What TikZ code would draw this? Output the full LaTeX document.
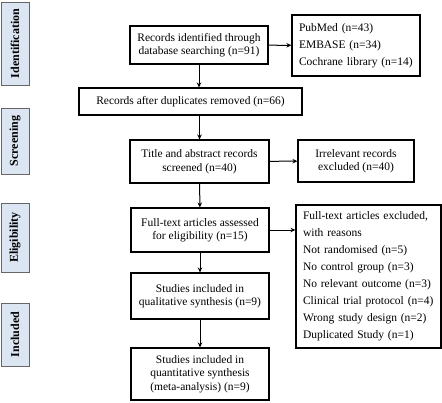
\documentclass[tikz,border=0pt]{standalone}
\usepackage{fontspec}
\setmainfont{Liberation Serif}
\usetikzlibrary{arrows.meta}
\definecolor{stagefill}{RGB}{220,230,242}
\tikzset{
	stagebox/.style={draw=black!60, fill=stagefill, line width=0.7pt, font=\bfseries\fontsize{12}{14}\selectfont, rotate=90, inner sep=0pt},
	flowbox/.style={draw, line width=1.1pt, align=center, inner sep=2pt, font=\fontsize{11.5}{13.5}\selectfont},
	listbox/.style={draw, line width=1.1pt, align=left, inner xsep=7pt, inner ysep=2pt, font=\fontsize{11.5}{17}\selectfont},
	flowarrow/.style={line width=1pt, -{Stealth[length=5pt,width=4.5pt]}}
}
\begin{document}
\begin{tikzpicture}[x=1pt, y=-1pt]
			%%%%% START %%%%%
			\useasboundingbox (0, 0) rectangle (442, 402);
			
			\node[stagebox, minimum width=83, minimum height=28] (idlab) at (15, 43.5) {Identification};
			\node[stagebox, minimum width=66, minimum height=28] (scrlab) at (15, 141) {Screening};
			\node[stagebox, minimum width=69, minimum height=28] (elilab) at (15, 237.5) {Eligibility};
			\node[stagebox, minimum width=63, minimum height=28] (inclab) at (15, 334.5) {Included};
			
			\node[flowbox, minimum width=138, minimum height=38] (found) at (199, 45) {Records identified through\\database searching (n=91)};
			\node[listbox, minimum width=128, minimum height=61, text width=114] (sources) at (356, 45.5) {PubMed (n=43)\\EMBASE (n=34)\\Cochrane library (n=14)};
			\node[flowbox, minimum width=223, minimum height=27] (dedup) at (190.5, 101.5) {Records after duplicates removed (n=66)};
			\node[flowbox, minimum width=139, minimum height=43] (screen) at (199.5, 161.5) {Title and abstract records\\screened (n=40)};
			\node[flowbox, minimum width=116, minimum height=42] (irrel) at (356, 161) {Irrelevant records\\excluded (n=40)};
			\node[flowbox, minimum width=138, minimum height=44] (fulltext) at (200, 230) {Full-text articles assessed\\for eligibility (n=15)};
			\node[listbox, minimum width=145, minimum height=143, text width=131] (reasons) at (368.5, 276.5) {Full-text articles excluded,\\with reasons\\Not randomised (n=5)\\No control group (n=3)\\No relevant outcome (n=3)\\Clinical trial protocol (n=4)\\Wrong study design (n=2)\\Duplicated Study (n=1)};
			\node[flowbox, minimum width=138, minimum height=46] (qual) at (200, 296) {Studies included in\\qualitative synthesis (n=9)};
			\node[flowbox, minimum width=138, minimum height=52] (quant) at (200, 374) {Studies included in\\quantitative synthesis\\(meta-analysis) (n=9)};
			
			\draw[flowarrow] (found) -- (sources);
			\draw[flowarrow] (found.south) -- (found.south |- dedup.north);
			\draw[flowarrow] (screen.north |- dedup.south) -- (screen.north);
			\draw[flowarrow] (screen) -- (irrel);
			\draw[flowarrow] (screen) -- (fulltext);
			\draw[flowarrow] (fulltext.east) -- (fulltext.east -| reasons.west);
			\draw[flowarrow] (fulltext) -- (qual);
			\draw[flowarrow] (qual) -- (quant);
			
			%%%%% END %%%%%
		\end{tikzpicture}
\end{document}
